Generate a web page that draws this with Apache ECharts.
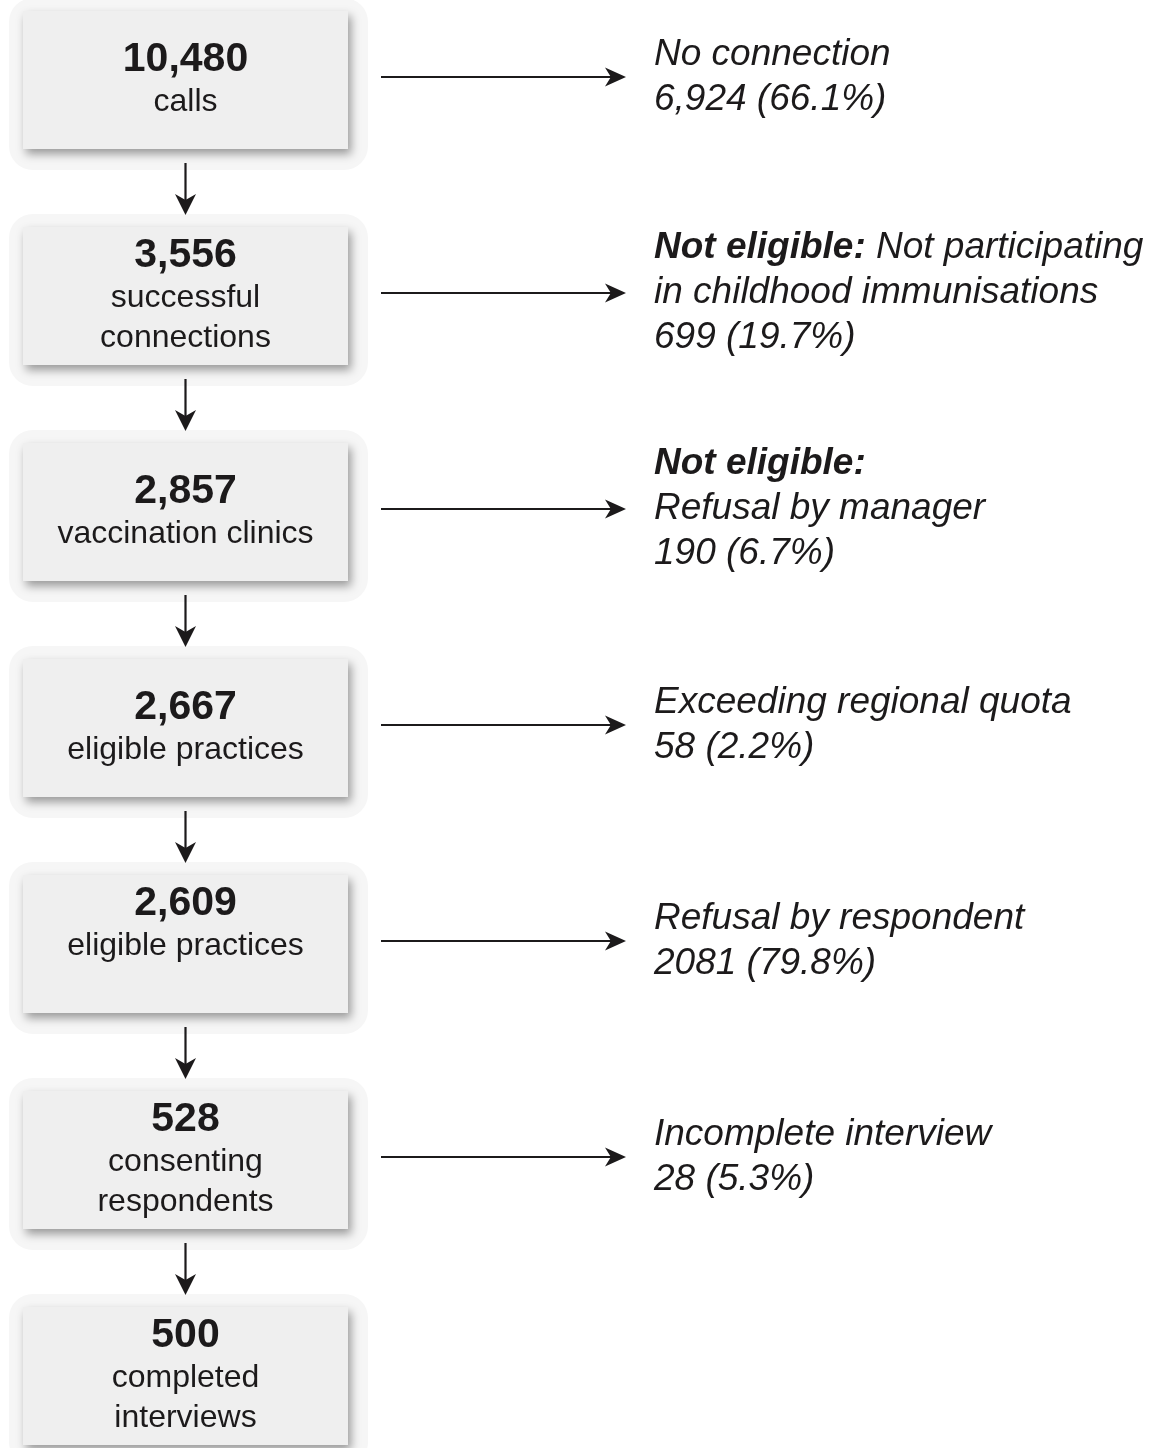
<!DOCTYPE html>
<html>
<head>
<meta charset="utf-8">
<script src="https://cdn.jsdelivr.net/npm/echarts@6/dist/echarts.min.js"></script>
<style>
html,body{margin:0;padding:0;background:#ffffff;}
#chart{width:1169px;height:1448px;}
</style>
</head>
<body>
<div id="chart"></div>
<script>
// ---- data ----
const stageCounts = ['10,480', '3,556', '2,857', '2,667', '2,609', '528', '500'];
const stageLabels = [
  ['calls'],
  ['successful', 'connections'],
  ['vaccination clinics'],
  ['eligible practices'],
  ['eligible practices', ''],
  ['consenting', 'respondents'],
  ['completed', 'interviews']
];
const exclusionHeads = ['', 'Not eligible:', 'Not eligible:', '', '', ''];
const exclusionReasons = [
  ['No connection'],
  ['Not participating', 'in childhood immunisations'],
  ['', 'Refusal by manager'],
  ['Exceeding regional quota'],
  ['Refusal by respondent'],
  ['Incomplete interview']
];
const exclusionCounts = ['6,924 (66.1%)', '699 (19.7%)', '190 (6.7%)', '58 (2.2%)', '2081 (79.8%)', '28 (5.3%)'];

// ---- layout / style ----
const FONT = '"Liberation Sans", Arial, Helvetica, sans-serif';
const INK = '#1c1a1b';
const BOX = { cx: 185.5, w: 325, h: 138 };
const ARROW_X0 = 381, ARROW_X1 = 626, TEXT_X = 654;

const chart = echarts.init(document.getElementById('chart'), null, { renderer: 'canvas' });

function arrowHead(x, y, dir, len, half) {
  if (dir === 'down') {
    return [[x, y], [x - half, y - len], [x, y - len * 0.72], [x + half, y - len]];
  }
  return [[x, y], [x - len, y - half], [x - len * 0.72, y], [x - len, y + half]];
}

const stageData = stageCounts.map((c, i) => [i, c]);
const linkData = stageCounts.slice(0, -1).map((c, i) => [i, i + 1]);
const exclData = exclusionCounts.map((c, i) => [i, c]);

const option = {
  animation: false,
  backgroundColor: '#ffffff',
  grid: { left: 0, right: 0, top: 80, bottom: 72, containLabel: false },
  xAxis: { type: 'value', min: 0, max: 1169, show: false },
  yAxis: { type: 'value', min: 0, max: 6, inverse: true, show: false },
  series: [
    {
      type: 'custom',
      name: 'stages',
      coordinateSystem: 'cartesian2d',
      data: stageData,
      encode: { y: 0 },
      renderItem: function (params, api) {
        const i = params.dataIndex;
        const cy = api.coord([0, api.value(0)])[1];
        const x = BOX.cx - BOX.w / 2, y = cy - BOX.h / 2;
        const rich = {
          n: { fontFamily: FONT, fontSize: 41, fontWeight: 'bold', lineHeight: 44, fill: INK, align: 'center' },
          l: { fontFamily: FONT, fontSize: 32, lineHeight: 40, fill: INK, align: 'center' }
        };
        const txt = '{n|' + stageCounts[i] + '}\n' + stageLabels[i].map(s => '{l|' + (s || ' ') + '}').join('\n');
        return {
          type: 'group',
          children: [
            { type: 'rect', shape: { x: x - 14, y: y - 13, width: BOX.w + 34, height: BOX.h + 34, r: 24 },
              style: { fill: '#f6f6f6' } },
            { type: 'rect', shape: { x: x, y: y, width: BOX.w, height: BOX.h },
              style: { fill: '#efefef', shadowColor: 'rgba(0,0,0,0.38)', shadowBlur: 9, shadowOffsetX: 3, shadowOffsetY: 5 } },
            { type: 'text', style: { text: txt, x: BOX.cx, y: cy, align: 'center', verticalAlign: 'middle', rich: rich, fill: INK } }
          ]
        };
      },
      z: 2
    },
    {
      type: 'custom',
      name: 'flow',
      coordinateSystem: 'cartesian2d',
      data: linkData,
      encode: { y: [0, 1] },
      renderItem: function (params, api) {
        const y0 = api.coord([0, api.value(0)])[1] + BOX.h / 2 + 14;
        const y1 = api.coord([0, api.value(1)])[1] - BOX.h / 2 - 12;
        return {
          type: 'group',
          children: [
            { type: 'line', shape: { x1: BOX.cx, y1: y0, x2: BOX.cx, y2: y1 - 12 }, style: { stroke: INK, lineWidth: 2.2 } },
            { type: 'polygon', shape: { points: arrowHead(BOX.cx, y1, 'down', 21, 10.5) }, style: { fill: INK } }
          ]
        };
      },
      z: 3
    },
    {
      type: 'custom',
      name: 'exclusions',
      coordinateSystem: 'cartesian2d',
      data: exclData,
      encode: { y: 0 },
      renderItem: function (params, api) {
        const i = params.dataIndex;
        const ay = api.coord([0, api.value(0)])[1] - 3;
        const rich = {
          i: { fontFamily: FONT, fontSize: 37, fontStyle: 'italic', lineHeight: 45, fill: INK },
          b: { fontFamily: FONT, fontSize: 37, fontStyle: 'italic', fontWeight: 'bold', lineHeight: 45, fill: INK }
        };
        const lines = exclusionReasons[i].map(function (s, k) {
          let out = '';
          if (k === 0 && exclusionHeads[i]) out += '{b|' + exclusionHeads[i] + '}' + (s ? '{i| ' + s + '}' : '');
          else out += '{i|' + s + '}';
          return out;
        });
        lines.push('{i|' + exclusionCounts[i] + '}');
        return {
          type: 'group',
          children: [
            { type: 'line', shape: { x1: ARROW_X0, y1: ay, x2: ARROW_X1 - 14, y2: ay }, style: { stroke: INK, lineWidth: 2.2 } },
            { type: 'polygon', shape: { points: arrowHead(ARROW_X1, ay, 'right', 21, 9.5) }, style: { fill: INK } },
            { type: 'text', style: { text: lines.join('\n'), x: TEXT_X, y: ay, align: 'left', verticalAlign: 'middle', rich: rich, fill: INK } }
          ]
        };
      },
      z: 3
    }
  ]
};
chart.setOption(option);
</script>
</body>
</html>
